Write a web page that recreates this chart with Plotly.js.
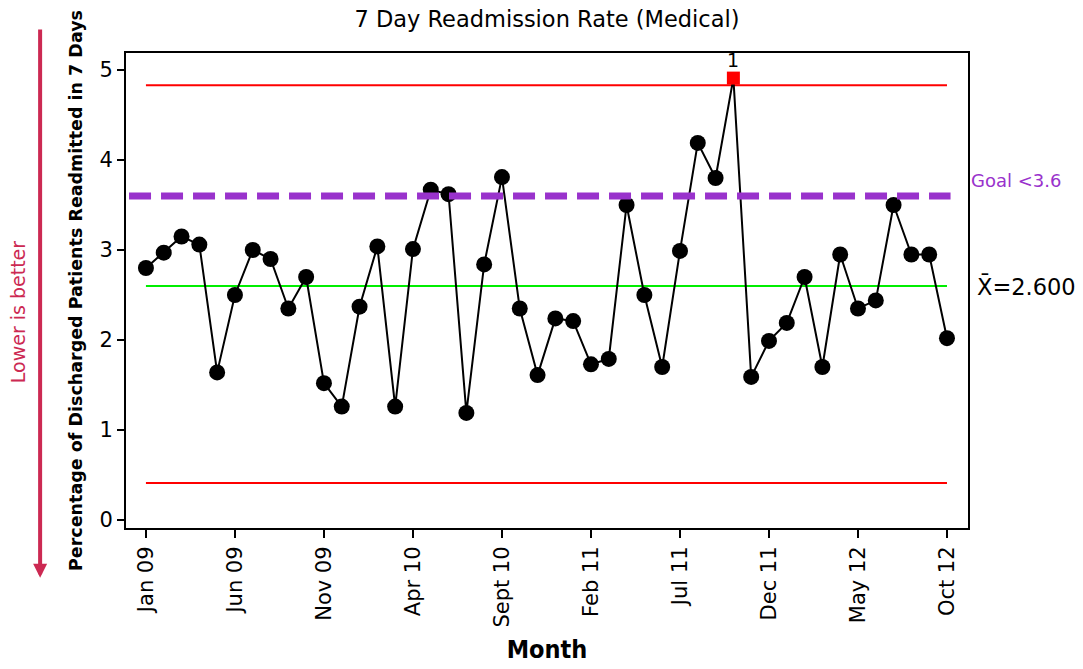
<!DOCTYPE html>
<html>
<head>
<meta charset="utf-8">
<script src="https://cdn.plot.ly/plotly-3.0.1.min.js"></script>
<style>html,body{margin:0;padding:0;background:#fff;}#chart{width:1083px;height:669px;}</style>
</head>
<body>
<div id="chart"></div>
<script>
// ---- data ----
const months = [
  "Jan 09","Feb 09","Mar 09","Apr 09","May 09","Jun 09","Jul 09","Aug 09","Sep 09","Oct 09","Nov 09","Dec 09",
  "Jan 10","Feb 10","Mar 10","Apr 10","May 10","Jun 10","Jul 10","Aug 10","Sept 10","Oct 10","Nov 10","Dec 10",
  "Jan 11","Feb 11","Mar 11","Apr 11","May 11","Jun 11","Jul 11","Aug 11","Sep 11","Oct 11","Nov 11","Dec 11",
  "Jan 12","Feb 12","Mar 12","Apr 12","May 12","Jun 12","Jul 12","Aug 12","Sep 12","Oct 12"
];
const rate = [
  2.80, 2.97, 3.15, 3.06, 1.64, 2.50, 3.00, 2.90, 2.35, 2.70, 1.52, 1.26,
  2.37, 3.04, 1.26, 3.01, 3.67, 3.62, 1.19, 2.84, 3.81, 2.35, 1.61, 2.24,
  2.21, 1.73, 1.79, 3.50, 2.50, 1.70, 2.99, 4.19, 3.80, 4.91, 1.59, 1.99,
  2.19, 2.70, 1.70, 2.95, 2.35, 2.44, 3.50, 2.95, 2.95, 2.02
];
const tickLabels = ["Jan 09","Jun 09","Nov 09","Apr 10","Sept 10","Feb 11","Jul 11","Dec 11","May 12","Oct 12"];
const centerLine = 2.6;
const upperLimit = 4.83;
const lowerLimit = 0.41;
const goal = 3.6;

// ---- styling derived from data ----
const isOut = rate.map(v => v > upperLimit || v < lowerLimit);
const mColor = isOut.map(o => o ? "#ff0000" : "#000000");
const mSymbol = isOut.map(o => o ? "square" : "circle");
const mSize = isOut.map(o => o ? 13 : 16);
const outX = months.filter((m, i) => isOut[i]);
const outY = rate.filter((v, i) => isOut[i]);

const FONT = "DejaVu Sans, Verdana, sans-serif";
const CRIMSON = "#cc2952";
const PURPLE = "#9932cc";
const lastIdx = months.length - 1;

const traces = [
  {
    x: months, y: rate, type: "scatter", mode: "lines+markers",
    line: {color: "#000", width: 2},
    marker: {color: mColor, symbol: mSymbol, size: mSize, opacity: 1, line: {width: 0}},
    hoverinfo: "x+y", showlegend: false
  }
];

const flagNotes = outX.map((m, i) => ({
  xref: "x", yref: "y", x: m, y: outY[i], xanchor: "center", yanchor: "bottom", yshift: 5,
  showarrow: false, text: "1", font: {family: FONT, size: 19, color: "#000"}
}));

const layout = {
  width: 1083, height: 669,
  margin: {l: 126, r: 115, t: 53, b: 141},
  paper_bgcolor: "#fff", plot_bgcolor: "#fff",
  font: {family: FONT, color: "#000"},
  showlegend: false,
  title: {
    text: "7 Day Readmission Rate (Medical)",
    font: {family: FONT, size: 22.5, color: "#000"},
    x: 0.5, xref: "paper", xanchor: "center",
    y: 1 - 19 / 669, yref: "container", yanchor: "middle"
  },
  xaxis: {
    type: "category",
    range: [-1.12, 46.18],
    tickmode: "array", tickvals: tickLabels, ticktext: tickLabels,
    tickangle: -90,
    ticks: "outside", ticklen: 8, tickwidth: 2, tickcolor: "#000",
    tickfont: {family: FONT, size: 21, color: "#000"},
    showline: true, mirror: true, linewidth: 2, linecolor: "#000",
    showgrid: false, zeroline: false,
    title: {text: "<b>Month</b>", font: {family: "DejaVu Sans Condensed, DejaVu Sans, sans-serif", size: 25, color: "#000"}, standoff: 14}
  },
  yaxis: {
    range: [-0.089, 5.189],
    tickmode: "array", tickvals: [0, 1, 2, 3, 4, 5],
    ticks: "outside", ticklen: 7, tickwidth: 2, tickcolor: "#000",
    tickfont: {family: FONT, size: 21, color: "#000"},
    showline: true, mirror: true, linewidth: 2, linecolor: "#000",
    showgrid: false, zeroline: false,
    title: {text: "<b>Percentage of Discharged Patients Readmitted in 7 Days</b>", font: {family: FONT, size: 17.5, color: "#000"}, standoff: 12}
  },
  shapes: [
    {type: "line", xref: "x", yref: "y", x0: 0, x1: lastIdx, y0: upperLimit, y1: upperLimit, line: {color: "#ff0000", width: 2}, layer: "below"},
    {type: "line", xref: "x", yref: "y", x0: 0, x1: lastIdx, y0: lowerLimit, y1: lowerLimit, line: {color: "#ff0000", width: 2}, layer: "below"},
    {type: "line", xref: "x", yref: "y", x0: 0, x1: lastIdx, y0: centerLine, y1: centerLine, line: {color: "#00ee00", width: 2}, layer: "below"},
    {type: "line", xref: "x", yref: "y", x0: -0.95, x1: lastIdx + 0.2, y0: goal, y1: goal, line: {color: PURPLE, width: 7, dash: "22px,10px"}, layer: "above"}
  ],
  annotations: flagNotes.concat([
    {xref: "paper", yref: "y", x: 1.001, y: goal + 0.17, xanchor: "left", yanchor: "middle", showarrow: false,
     text: "Goal <" + goal, font: {family: FONT, size: 18, color: PURPLE}},
    {xref: "paper", yref: "y", x: 1.008, y: centerLine, xanchor: "left", yanchor: "middle", showarrow: false,
     text: "X\u0304=" + centerLine.toFixed(3), font: {family: FONT, size: 22.5, color: "#000"}},
    {xref: "paper", yref: "paper", x: -0.102, y: -0.105, ax: 0, ay: -550, axref: "pixel", ayref: "pixel",
     showarrow: true, arrowhead: 2, arrowsize: 0.7, arrowwidth: 4, arrowcolor: CRIMSON, text: ""},
    {xref: "paper", yref: "paper", x: -0.128, y: (528 - 312) / 475, xanchor: "center", yanchor: "middle", textangle: -90,
     showarrow: false, text: "Lower is better", font: {family: FONT, size: 19, color: CRIMSON}}
  ])
};

Plotly.newPlot("chart", traces, layout, {displayModeBar: false, staticPlot: true});
</script>
</body>
</html>
